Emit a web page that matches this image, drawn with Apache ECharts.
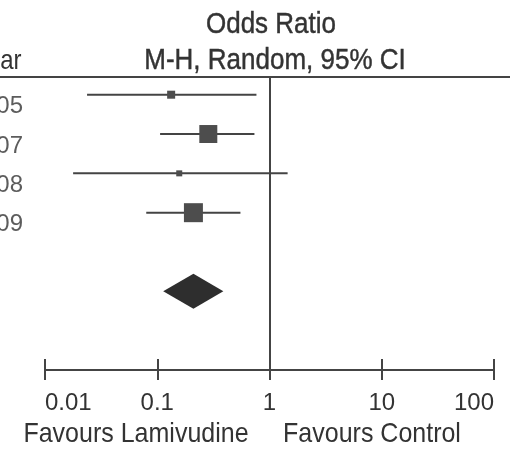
<!DOCTYPE html>
<html><head><meta charset="utf-8">
<script src="https://cdn.jsdelivr.net/npm/echarts@6/dist/echarts.min.js"></script>
<style>html,body{margin:0;padding:0;background:#fff}#c{width:510px;height:449px}</style>
</head><body><div id="c"></div>
<script>
const years = ['2005', '2007', '2008', '2009'];
const orEst = [0.133, 0.285, 0.157, 0.21];
const ciLow = [0.0237, 0.106, 0.0178, 0.0798];
const ciHigh = [0.765, 0.734, 1.45, 0.551];
const weights = [8.2, 41.3, 4.6, 46.0];
const pooled = { est: 0.21, low: 0.113, high: 0.388 };
const tickValues = [0.01, 0.1, 1, 10, 100];
const tickLabels = ['0.01', '0.1', '1', '10', '100'];

const FONT = "'Liberation Sans', Arial, sans-serif";
const TXT = '#333333';
const LINE = '#444444';

const chart = echarts.init(document.getElementById('c'), null, { renderer: 'canvas' });

const studyData = years.map((y, i) => [orEst[i], ciLow[i], ciHigh[i], i, weights[i]]);

function txt(x, y, text, size, align, bold) {
  return { type: 'text', x: x, y: y, scaleY: 1.12,
    style: { text: text, font: size + 'px ' + FONT, fill: TXT, textAlign: align, textVerticalAlign: 'middle',
      stroke: bold ? TXT : null, lineWidth: bold ? 0.4 : 0 } };
}

const option = {
  backgroundColor: '#fff',
  animation: false,
  grid: { left: 45, right: 16, top: 77, bottom: 79, containLabel: false },
  xAxis: [{
    type: 'log', logBase: 10, min: 0.01, max: 100, position: 'bottom',
    axisLine: { show: true, onZero: false, lineStyle: { color: LINE, width: 2 } },
    axisTick: { show: true, length: 10, lineStyle: { color: LINE, width: 2 } },
    axisLabel: {
      show: true, fontSize: 24, color: TXT, fontFamily: FONT, margin: 21,
      alignMinLabel: 'left', alignMaxLabel: 'right',
      formatter: v => { const k = tickValues.findIndex(t => Math.abs(Math.log10(t) - Math.log10(v)) < 1e-6); return k >= 0 ? tickLabels[k] : ''; }
    },
    splitLine: { show: false }
  }, {
    type: 'log', logBase: 10, min: 0.01, max: 100, position: 'bottom', gridIndex: 0,
    axisLine: { show: false, onZero: false },
    axisTick: { show: true, inside: true, length: 11, lineStyle: { color: LINE, width: 2 } },
    axisLabel: { show: false },
    splitLine: { show: false }
  }],
  yAxis: {
    type: 'value', inverse: true, min: -0.45, max: 7, show: false
  },
  graphic: [
    { type: 'line', shape: { x1: 0, y1: 77, x2: 510, y2: 77 }, style: { stroke: LINE, lineWidth: 2 } },
    txt(271, 25, 'Odds Ratio', 26, 'center', true),
    txt(275, 61, 'M-H, Random, 95% CI', 26, 'center', true),
    txt(21.5, 62, 'Year', 24, 'right', false),
    txt(136, 434, 'Favours Lamivudine', 25, 'center', false),
    txt(372, 434, 'Favours Control', 25, 'center', false)
  ],
  series: [
    {
      type: 'custom', name: 'studies', xAxisIndex: 0, yAxisIndex: 0,
      data: studyData,
      renderItem: (params, api) => {
        const y = api.value(3);
        const p0 = api.coord([api.value(1), y]);
        const p1 = api.coord([api.value(2), y]);
        const pc = api.coord([api.value(0), y]);
        const s = Math.sqrt(api.value(4)) * 2.8;
        return {
          type: 'group', children: [
            { type: 'line', shape: { x1: p0[0], y1: p0[1], x2: p1[0], y2: p1[1] }, style: { stroke: LINE, lineWidth: 2 } },
            { type: 'rect', shape: { x: pc[0] - s / 2, y: pc[1] - s / 2, width: s, height: s }, style: { fill: '#4d4d4d' } }
          ]
        };
      },
      encode: { x: [0, 1, 2], y: 3 },
      markLine: {
        silent: true, symbol: 'none', label: { show: false },
        lineStyle: { color: LINE, width: 2, type: 'solid' },
        data: [[{ coord: [1, -0.45] }, { coord: [1, 7] }]]
      }
    },
    {
      type: 'custom', name: 'pooled',
      data: [[pooled.est, pooled.low, pooled.high, 5]],
      renderItem: (params, api) => {
        const y = api.value(3);
        const l = api.coord([api.value(1), y]);
        const r = api.coord([api.value(2), y]);
        const c = api.coord([api.value(0), y]);
        const h = 17.5;
        return { type: 'polygon', shape: { points: [[l[0], l[1]], [c[0], c[1] - h], [r[0], r[1]], [c[0], c[1] + h]] }, style: { fill: '#2e2e2e' } };
      },
      encode: { x: [0, 1, 2], y: 3 }
    },
    {
      type: 'scatter', name: 'labels', symbolSize: 0,
      data: years.map((y, i) => [0.01, i]),
      label: {
        show: true, position: 'left', distance: 22, offset: [0, 12],
        formatter: p => years[p.dataIndex], fontSize: 24, color: TXT, fontFamily: FONT
      }
    }
  ]
};
chart.setOption(option);
</script>
</body></html>
